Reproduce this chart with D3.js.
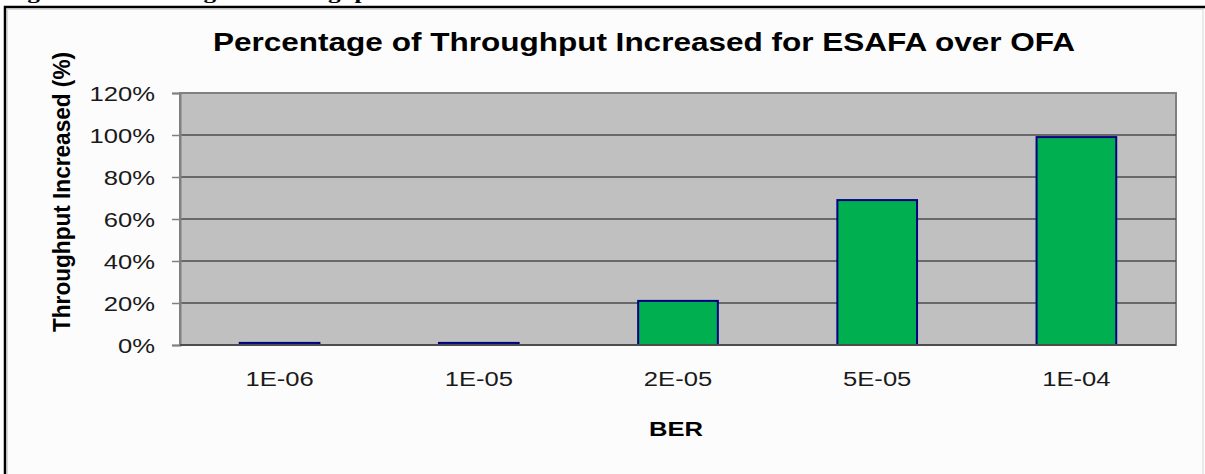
<!DOCTYPE html>
<html>
<head>
<meta charset="utf-8">
<script src="https://cdn.jsdelivr.net/npm/d3@7"></script>
<style>
  html, body { margin: 0; padding: 0; background: #ffffff; }
  svg { display: block; }
  text { font-family: "Liberation Sans", Arial, sans-serif; }
</style>
</head>
<body>
<div id="chart"></div>
<script>
// BER levels and throughput gain of ESAFA over OFA (percent)
const categories = ["1E-06", "1E-05", "2E-05", "5E-05", "1E-04"];
const increase = [1, 1, 21, 69, 99];
const yTicks = [0, 20, 40, 60, 80, 100, 120];

const chartTitle = "Percentage of Throughput Increased for ESAFA over OFA";
const captionText = "Figure 6: Percentage of Throughput Increased for ESAFA over OFA";
const yTitle = "Throughput Increased (%)";
const xTitle = "BER";

const W = 1205, H = 474;
const plot = { left: 180, right: 1176, top: 93, bottom: 345 };
const sx = 1.22; // horizontal stretch of the lettering

const svg = d3.select("#chart").append("svg")
  .attr("width", W).attr("height", H);

// helper: place text at (x,y) with a horizontal stretch
function place(sel, x, y, rot) {
  sel.attr("x", 0).attr("y", 0)
     .attr("transform", `translate(${x},${y})` + (rot ? ` rotate(${rot})` : "") + ` scale(${rot ? 1 : sx},${rot ? sx : 1})`);
  return sel;
}

// caption line running off the top edge
svg.append("text")
  .attr("x", 5).attr("y", -1)
  .style("font-family", "'Liberation Serif', 'Times New Roman', serif")
  .style("font-weight", "bold")
  .style("font-size", "16px")
  .attr("textLength", 730)
  .attr("lengthAdjust", "spacingAndGlyphs")
  .attr("fill", "#000")
  .text(captionText);

// chart frame
svg.append("rect")
  .attr("x", 5).attr("y", 7).attr("width", W + 5).attr("height", H + 5)
  .attr("fill", "#fcfcfc").attr("stroke", "#000").attr("stroke-width", 2.5);
svg.append("rect")
  .attr("x", 7.5).attr("y", 9.5).attr("width", 1195.5).attr("height", H)
  .attr("fill", "none").attr("stroke", "#d8d8d8").attr("stroke-width", 1);

const x = d3.scaleBand()
  .domain(categories)
  .range([plot.left, plot.right])
  .paddingInner(0.6)
  .paddingOuter(0.3);

const y = d3.scaleLinear()
  .domain([0, 120])
  .range([plot.bottom, plot.top]);

// plot area
svg.append("rect")
  .attr("x", plot.left).attr("y", plot.top)
  .attr("width", plot.right - plot.left).attr("height", plot.bottom - plot.top)
  .attr("fill", "#c0c0c0").attr("stroke", "#808080").attr("stroke-width", 2);

// gridlines
svg.append("g")
  .selectAll("line")
  .data(yTicks.filter(d => d > 0 && d < 120))
  .join("line")
  .attr("x1", plot.left).attr("x2", plot.right)
  .attr("y1", d => y(d)).attr("y2", d => y(d))
  .attr("stroke", "#4d4d4d").attr("stroke-width", 1.5);

// y axis
const yAxis = svg.append("g")
  .attr("transform", `translate(${plot.left},0)`)
  .call(d3.axisLeft(y).tickValues(yTicks).tickSize(8).tickPadding(0).tickFormat(d => d + "%"));
yAxis.select(".domain").attr("stroke", "#808080").attr("stroke-width", 2);
yAxis.selectAll(".tick line").attr("stroke", "#808080").attr("stroke-width", 1.5);
yAxis.selectAll(".tick text").each(function(d) {
  const t = d3.select(this);
  t.attr("dy", null).attr("text-anchor", "end")
   .style("font-size", "21px").attr("fill", "#1a1a1a");
  place(t, -25, 7.5);
});

// bars
svg.append("g")
  .selectAll("rect")
  .data(categories.map((c, i) => ({ c, v: increase[i] })))
  .join("rect")
  .attr("x", d => x(d.c))
  .attr("y", d => y(d.v))
  .attr("width", x.bandwidth())
  .attr("height", d => y(0) - y(d.v))
  .attr("fill", "#00b050")
  .attr("stroke", "#000080")
  .attr("stroke-width", 2);

// x axis baseline
svg.append("line")
  .attr("x1", plot.left).attr("x2", plot.right)
  .attr("y1", y(0)).attr("y2", y(0))
  .attr("stroke", "#4d4d4d").attr("stroke-width", 2);

// x tick labels
svg.append("g")
  .selectAll("text")
  .data(categories)
  .join("text")
  .attr("text-anchor", "middle")
  .style("font-size", "21px")
  .attr("fill", "#1a1a1a")
  .text(d => d)
  .each(function(d) { place(d3.select(this), x(d) + x.bandwidth() / 2, 386); });

// axis titles
place(svg.append("text")
  .attr("text-anchor", "middle")
  .style("font-size", "21px").style("font-weight", "bold")
  .attr("fill", "#000")
  .text(xTitle), 676, 436);

svg.append("text")
  .attr("x", 0).attr("y", 0)
  .attr("transform", "translate(70,192) rotate(-90)")
  .attr("text-anchor", "middle")
  .style("font-size", "23px").style("font-weight", "bold")
  .attr("textLength", 280)
  .attr("lengthAdjust", "spacingAndGlyphs")
  .attr("fill", "#000")
  .text(yTitle);

// chart title
svg.append("text")
  .attr("x", 644).attr("y", 51)
  .attr("text-anchor", "middle")
  .style("font-size", "25px").style("font-weight", "bold")
  .attr("textLength", 862)
  .attr("lengthAdjust", "spacingAndGlyphs")
  .attr("fill", "#000")
  .text(chartTitle);
</script>
</body>
</html>
